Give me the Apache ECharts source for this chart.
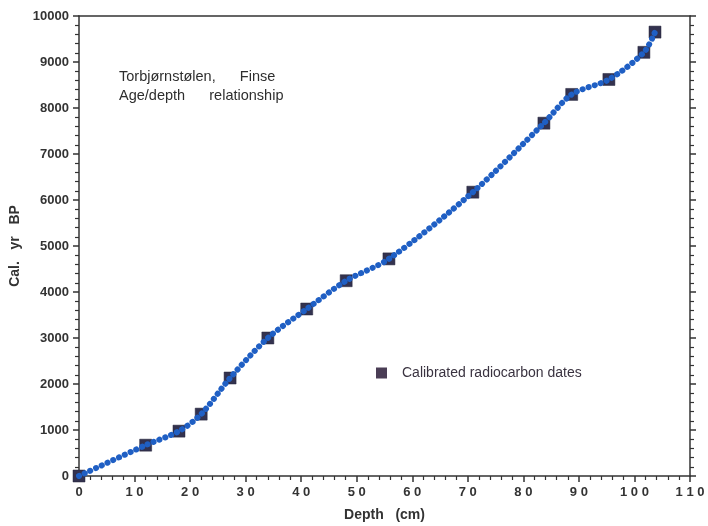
<!DOCTYPE html>
<html>
<head>
<meta charset="utf-8">
<script src="https://cdn.jsdelivr.net/npm/echarts@6/dist/echarts.min.js"></script>
<style>
html,body{margin:0;padding:0;background:#fff;}
#chart{width:708px;height:526px;}
</style>
</head>
<body>
<div id="chart"></div>
<script>
// Calibrated radiocarbon dates (depth in cm, age in cal. yr BP)
var depths = [0, 12, 18, 22, 27.2, 34, 41, 48.1, 55.8, 70.9, 83.7, 88.7, 95.4, 101.7, 103.7];
var ages   = [0, 670, 975, 1345, 2130, 3000, 3630, 4245, 4720, 6170, 7670, 8295, 8620, 9210, 9650];
var xTicks = [0, 10, 20, 30, 40, 50, 60, 70, 80, 90, 100, 110];
var yTicks = [0, 1000, 2000, 3000, 4000, 5000, 6000, 7000, 8000, 9000, 10000];
var titleLines = ['Torbjørnstølen,      Finse', 'Age/depth      relationship'];
var legendName = 'Calibrated radiocarbon dates';

var pts = depths.map(function (d, i) { return [d, ages[i]]; });
var axisColor = '#333';
var font = 'Liberation Sans, Arial, sans-serif';

var chart = echarts.init(document.getElementById('chart'));
chart.setOption({
  backgroundColor: '#fff',
  animation: false,
  grid: { left: 79, right: 18, top: 16, bottom: 50, outerBoundsMode: 'none', containLabel: false },
  legend: {
    data: [legendName],
    left: 371, top: 361,
    icon: 'rect', itemWidth: 11, itemHeight: 11, itemGap: 8,
    itemStyle: { color: '#4a3d55', borderWidth: 0, opacity: 1 },
    textStyle: { fontFamily: font, fontSize: 14, color: '#3a3340', fontWeight: 'normal', padding: [0, 0, 0, 10] }
  },
  graphic: [{
    type: 'text', left: 119, top: 67,
    style: { text: titleLines.join('\n'), fontFamily: font, fontSize: 14.5, lineHeight: 19, fill: '#2e2e2e' }
  }],
  xAxis: [{
    type: 'value', min: xTicks[0], max: xTicks[xTicks.length - 1], interval: 10,
    name: 'Depth   (cm)', nameLocation: 'middle', nameGap: 32,
    nameTextStyle: { fontFamily: font, fontSize: 14, fontWeight: 'bold', color: axisColor },
    axisLine: { lineStyle: { color: axisColor, width: 1.5 } },
    axisTick: { show: true, length: 6, lineStyle: { color: axisColor, width: 1.5 } },
    minorTick: { show: true, splitNumber: 5, length: 4, lineStyle: { color: axisColor, width: 1.2 } },
    splitLine: { show: false },
    axisLabel: {
      margin: 10, fontFamily: font, fontSize: 13, fontWeight: 'bold', color: axisColor,
      formatter: function (v) { return String(v).split('').join(' '); }
    }
  }, {
    type: 'value', position: 'top', min: 0, max: 110,
    axisLine: { show: true, onZero: false, lineStyle: { color: axisColor, width: 1.5 } },
    axisTick: { show: false }, axisLabel: { show: false }, splitLine: { show: false }
  }],
  yAxis: [{
    type: 'value', min: yTicks[0], max: yTicks[yTicks.length - 1], interval: 1000,
    name: 'Cal.   yr   BP', nameLocation: 'middle', nameGap: 46,
    nameTextStyle: { fontFamily: font, fontSize: 14, fontWeight: 'bold', color: axisColor },
    axisLine: { show: true, lineStyle: { color: axisColor, width: 1.5 } },
    axisTick: { show: true, length: 6, lineStyle: { color: axisColor, width: 1.5 } },
    minorTick: { show: true, splitNumber: 5, length: 4, lineStyle: { color: axisColor, width: 1.2 } },
    splitLine: { show: false },
    axisLabel: {
      margin: 10, fontFamily: font, fontSize: 13, fontWeight: 'bold', color: axisColor,
      formatter: function (v) { return String(v); }
    }
  }, {
    type: 'value', position: 'right', min: 0, max: 10000, interval: 1000,
    axisLine: { show: true, onZero: false, lineStyle: { color: axisColor, width: 1.5 } },
    axisTick: { show: true, length: 6, lineStyle: { color: axisColor, width: 1.5 } },
    minorTick: { show: true, splitNumber: 5, length: 4, lineStyle: { color: axisColor, width: 1.2 } },
    axisLabel: { show: false }, splitLine: { show: false }
  }],
  series: [{
    name: legendName,
    type: 'scatter',
    data: pts,
    symbol: 'rect', symbolSize: 12,
    itemStyle: { color: '#33324f', borderColor: '#24243a', borderWidth: 0.5, opacity: 1 },
    z: 2
  }, {
    name: 'curve',
    type: 'line',
    data: pts,
    smooth: 0.3,
    showSymbol: false,
    lineStyle: { color: '#1f5fc4', width: 6, type: [0.1, 6.2], cap: 'round' },
    z: 3
  }]
});
</script>
</body>
</html>
